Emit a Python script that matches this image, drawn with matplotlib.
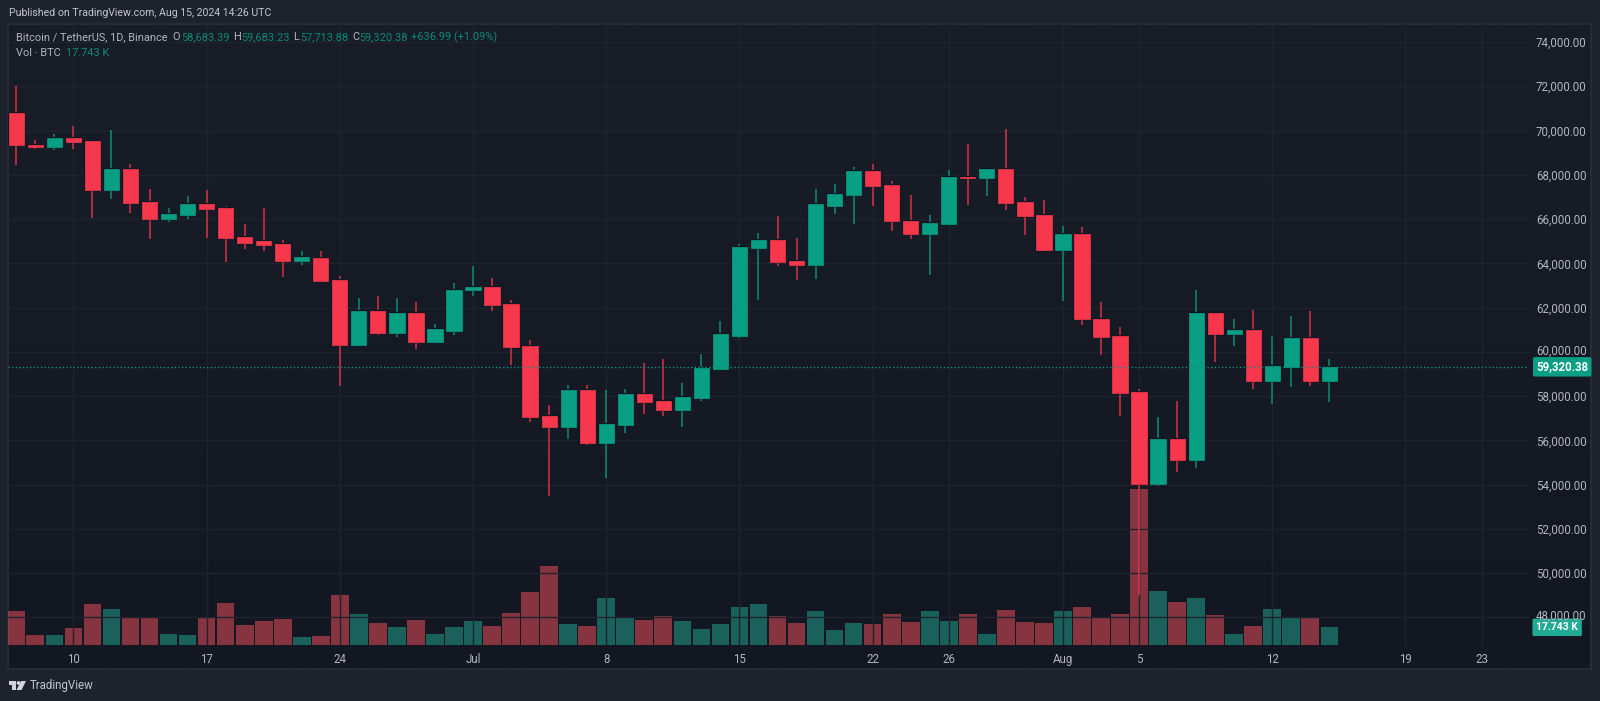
import numpy as np
import matplotlib
matplotlib.use("Agg")
import matplotlib.pyplot as plt
from matplotlib.colors import LinearSegmentedColormap
from matplotlib.patches import Polygon, Circle
from matplotlib.transforms import ScaledTranslation

# daily candles from 7 Jun 2024, first to last
opens = [70810, 69360, 69260, 69650, 69540, 67310, 68250, 66790, 66020, 66180,
         66700, 66500, 65170, 64990, 64850, 64090, 64250, 63260, 60290, 61850,
         60860, 61730, 60420, 60960, 62770, 62940, 62170, 60260, 57090, 56620,
         58250, 55860, 56700, 58100, 57770, 57350, 57890, 59220, 60730, 64680,
         65060, 64110, 63910, 66610, 67080, 68180, 67530, 65920, 65310, 65770,
         67890, 67850, 68240, 66780, 66200, 64580, 65340, 61500, 60710, 58170,
         54010, 56060, 55120, 61730, 60790, 60970, 58680, 59310, 60610, 58683.39]
closes = [69350, 69260, 69650, 69480, 67310, 68250, 66740, 66020, 66210, 66700,
          66450, 65130, 64930, 64810, 64100, 64270, 63180, 60290, 61850, 60860,
          61730, 60420, 61020, 62800, 62940, 62120, 60210, 57050, 56620, 58250,
          55860, 56730, 58100, 57720, 57350, 57940, 59250, 60790, 64740, 65060,
          64050, 63910, 66660, 67140, 68180, 67480, 65900, 65330, 65810, 67890,
          67850, 68240, 66730, 66130, 64590, 65340, 61480, 60690, 58120, 54010,
          56060, 55120, 61730, 60790, 60970, 58680, 59360, 60610, 58680, 59320.38]
highs = [72000, 69590, 69860, 70220, 69590, 70010, 68470, 67370, 66510, 67030,
         67300, 66590, 65760, 66510, 65070, 64540, 64540, 63410, 62430, 62530,
         62410, 62260, 61270, 63100, 63890, 63350, 62340, 60530, 57590, 58510,
         58510, 58250, 58330, 59490, 59680, 58580, 59910, 61410, 64880, 65390,
         66130, 65130, 67360, 67600, 68370, 68490, 67730, 67090, 66160, 68210,
         69410, 68310, 70080, 67000, 66870, 65670, 65630, 62240, 61120, 58320,
         57050, 57780, 62770, 61750, 61480, 61890, 60720, 61620, 61850, 59683.23]
lows = [68430, 69170, 69140, 69180, 66060, 66890, 66270, 65100, 65870, 66020,
        65140, 64040, 64640, 64570, 63360, 63920, 63180, 58450, 60290, 60740,
        60650, 60110, 60420, 60740, 62530, 61850, 59410, 56810, 53500, 56050,
        55770, 54290, 56340, 57170, 57090, 56580, 57770, 59180, 60610, 62360,
        63870, 63250, 63280, 66220, 65770, 66580, 65450, 65090, 63450, 65720,
        66640, 67030, 66400, 65280, 64550, 62300, 61230, 59870, 57110, 49010,
        53950, 54580, 54760, 59560, 60280, 58320, 57660, 58410, 58440, 57713.88]
# volume in thousands of BTC
volumes = [34.2, 10.5, 10.5, 16.8, 40.4, 35.8, 27.9, 27.9, 11.5, 9.9,
           27.3, 41.4, 20.0, 24.0, 25.6, 8.2, 8.9, 49.6, 30.9, 22.0,
           18.4, 25.0, 11.5, 17.7, 24.0, 18.7, 31.9, 52.6, 77.9, 21.0,
           19.4, 46.3, 27.3, 25.0, 28.9, 24.0, 16.1, 21.0, 37.8, 41.0,
           28.9, 22.0, 34.2, 15.1, 22.0, 21.0, 30.9, 23.0, 34.2, 24.0,
           30.9, 11.5, 34.8, 23.0, 22.0, 34.2, 37.8, 27.3, 30.9, 153.8,
           53.6, 42.7, 46.7, 29.9, 10.8, 19.4, 35.8, 27.3, 27.9, 17.743]

price_ticks = np.arange(48000, 76000, 2000)
date_pos = [3, 10, 17, 24, 31, 38, 45, 49, 55, 59, 66, 73, 77]
date_labels = ["10", "17", "24", "Jul", "8", "15", "22", "26", "Aug", "5", "12", "19", "23"]

last_price = 59320.38
last_vol = 17.743

W, H = 1600, 701
FONT = ["Roboto", "DejaVu Sans"]
RED = "#f7374c"
GREEN = "#089f84"
GREY = "#b2b5be"
DIM_GREEN = "#0b8a74"
plt.rcParams["font.family"] = FONT


def px_box(x0, y0, x1, y1):
    return [x0 / W, 1 - y1 / H, (x1 - x0) / W, (y1 - y0) / H]


def put(x, y, s, color=GREY, size=8.0, **kw):
    kw.setdefault("va", "center")
    return fig.text(x / W, 1 - y / H, s, color=color, fontsize=size, **kw)


fig = plt.figure(figsize=(W / 100, H / 100), dpi=100, facecolor="#1e222d")

# pane background, lighter at the top
bg = fig.add_axes(px_box(8, 24, 1591, 669))
cmap = LinearSegmentedColormap.from_list("pane", ["#191d28", "#131722"])
bg.imshow(np.linspace(0, 1, 256).reshape(-1, 1), aspect="auto", cmap=cmap)
bg.set_xticks([]), bg.set_yticks([])
for s in bg.spines.values():
    s.set_color("#2a2e39")
    s.set_linewidth(1.2)

ax = fig.add_axes(px_box(8, 24, 1529, 645.3))
ax.set_zorder(3)
ax.patch.set_visible(False)
ax.set_xlim((8 - 16.3) / 19.03, (1529 - 16.3) / 19.03)
ax.set_ylim(46734, 74814)

x = np.arange(len(opens))
opens_a, closes_a = np.array(opens), np.array(closes)
up = closes_a >= opens_a
candle_cols = [GREEN if u else RED for u in up]
bar_cols = ["#22ab94" if u else "#f7525f" for u in up]

# volume sits in its own scale at the bottom of the pane
ax2 = ax.twinx()
ax2.set_zorder(2)
ax2.set_ylim(0, 612.5)
ax2.bar(x, volumes, width=0.93, color=bar_cols, alpha=0.5, linewidth=0)
ax2.axis("off")

ax.vlines(x, lows, highs, colors=candle_cols, linewidth=1.1, alpha=0.85, zorder=3)
body = np.abs(closes_a - opens_a)
body_low = np.minimum(opens_a, closes_a)
# dark rim first, then the body on top so thin candles keep their colour
ax.bar(x, body, bottom=body_low, width=0.8, color="#131722", edgecolor="#131722", linewidth=1.7, zorder=4)
ax.bar(x, body, bottom=body_low, width=0.8, color=candle_cols, edgecolor=candle_cols, linewidth=0.5, zorder=4.5)
ax.axhline(last_price, color="#0f8f7c", linestyle=(0, (1, 1.6)), linewidth=1, zorder=5)

ax.set_yticks(price_ticks)
ax.set_yticklabels([f"{p:,.2f}" for p in price_ticks])
ax.yaxis.tick_right()
ax.set_xticks(date_pos)
ax.set_xticklabels(date_labels)
ax.tick_params(axis="both", length=0, labelcolor=GREY, labelsize=8.3)
ax.tick_params(axis="y", pad=5)
ax.tick_params(axis="x", pad=5.5)
ax.grid(True, color="#1f232e", linewidth=1, zorder=0)
ax.set_axisbelow(True)
for s in ax.spines.values():
    s.set_visible(False)

# labels pushed up by the last value boxes
for tick, p in zip(ax.yaxis.get_major_ticks(), price_ticks):
    if p in (48000, 60000):
        tick.label2.set_transform(tick.label2.get_transform()
                                  + ScaledTranslation(0, 1.5 / 72, fig.dpi_scale_trans))

# last price and last volume boxes on the scale
ax.annotate(f"{last_price:,.2f}", (1, last_price), xycoords=("axes fraction", "data"),
            xytext=(5.2, 0), textcoords="offset points", va="center", ha="left",
            color="white", fontsize=8.3, fontweight="bold", annotation_clip=False, zorder=6,
            bbox=dict(boxstyle="round,pad=0.28,rounding_size=0.15", fc="#0a9f84", ec="none"))
ax2.annotate(f"{last_vol:.3f} K", (1, last_vol), xycoords=("axes fraction", "data"),
             xytext=(5.2, 0), textcoords="offset points", va="center", ha="left",
             color="white", fontsize=7.5, fontweight="bold", annotation_clip=False, zorder=6,
             bbox=dict(boxstyle="round,pad=0.36,rounding_size=0.15", fc="#22ab94", ec="none"))

# header and legend
put(8.6, 13.5, "Published on TradingView.com, Aug 15, 2024 14:26 UTC", color="#c3c6ce", size=7.55)
put(16, 37.5, "Bitcoin / TetherUS, 1D, Binance", size=7.9)
for lx, vx, k, v in [(172, 181, "O", "58,683.39"), (233, 241, "H", "59,683.23"),
                     (293, 300, "L", "57,713.88"), (352, 359, "C", "59,320.38")]:
    put(lx, 37.5, k, size=7.9)
    put(vx, 37.5, v, color=DIM_GREEN, size=7.9)
put(411, 37.5, "+636.99 (+1.09%)", color=DIM_GREEN, size=7.9)
put(16, 52.5, "Vol · BTC", size=7.9)
put(66, 52.5, "17.743 K", color=DIM_GREEN, size=7.9)

# footer logo
def to_fig(pts):
    return [(a / W, 1 - b / H) for a, b in pts]

logo = "#d1d4dc"
fig.add_artist(Polygon(to_fig([(8.5, 681), (15.5, 681), (15.5, 690), (11.5, 690), (11.5, 684.5), (8.5, 684.5)]),
                       closed=True, fc=logo, ec="none", transform=fig.transFigure))
fig.add_artist(Polygon(to_fig([(21, 681), (26, 681), (21.5, 690), (16.5, 690)]),
                       closed=True, fc=logo, ec="none", transform=fig.transFigure))
fig.add_artist(Circle((18.5, H - 683), 1.9, fc=logo, ec="none", transform=None))
put(29.5, 685.5, "TradingView", color="#c3c6ce", size=8.3)

fig.savefig("out.png", dpi=100, facecolor=fig.get_facecolor())
